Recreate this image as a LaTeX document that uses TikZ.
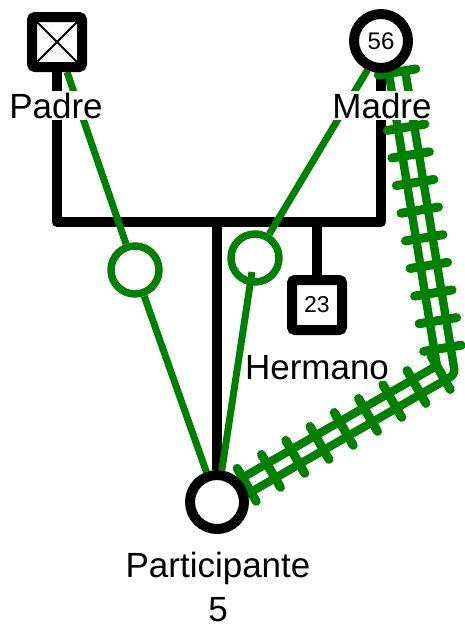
\documentclass[tikz,border=0pt]{standalone}
\usepackage{fontspec}
\setmainfont{Liberation Sans}
\usetikzlibrary{calc, backgrounds, decorations.pathreplacing}
\usetikzlibrary{positioning}
\definecolor{verde}{RGB}{0,128,0}

\tikzset{
	hombre/.style={draw=black, fill=white, line width=10pt, rounded corners=3pt, minimum size=50pt, inner sep=0pt, font=\fontsize{23}{26}\selectfont},
	mujer/.style={circle, draw=black, fill=white, line width=10pt, minimum size=54pt, inner sep=0pt, font=\fontsize{24}{26}\selectfont},
	fallecido/.style={path picture={\draw[line width=2pt] (path picture bounding box.north west)--(path picture bounding box.south east) (path picture bounding box.north east)--(path picture bounding box.south west);}},
	etiqueta/.style={fill=white, inner sep=2pt, anchor=base, font=\fontsize{35}{42}\selectfont},
	familia/.style={line width=10pt, line join=round},
	lazo/.style={verde, line width=7pt},
	vinculo/.style={circle, draw=verde, line width=7.5pt, minimum size=48pt, inner sep=0pt},
	fuerte/.style={draw=verde, line width=8.5pt, double=white, double distance=8pt, line join=round},
	rayas/.style={draw=verde, line width=9pt, line cap=round, decorate, decoration={ticks, segment length=28pt, amplitude=19pt}}
}

\begin{document}
\begin{tikzpicture}[x=1pt,y=-1pt]
	\useasboundingbox (0,0) rectangle (465,627);
	
	\coordinate (Pa) at (+57,+42);
	\coordinate (Ma) at (+381,+41);
	\coordinate (He) at (+317,+305);
	\coordinate (Pt) at (+217,+502);
	\coordinate (U)  at (+217,+222);
	\coordinate (K)  at (+446,+370);
	\coordinate (Mi) at (+252,+272);
	
	\node[hombre,fallecido] (padre)   at (Pa) {};
	\node[mujer]            (madre)   at (Ma) {56};
	\node[hombre]           (hermano) at (He) {23};
	\node[mujer]            (part)    at (Pt) {};
	\node[vinculo] (vP) at (+135,+270) {};
	\node[vinculo] (vM) at (+255,+258) {};
	
	\begin{scope}[on background layer]
		\draw[familia] (padre) -- (padre |- U) -- (madre |- U) -- (madre);
		\draw[familia] (U) -- (part);
		\draw[familia] (hermano |- U) -- (hermano);
		
		\draw[lazo] ($(padre.south)+(10,0)$) -- (vP);
		\draw[lazo] (vP) -- (part);
		\draw[lazo] (madre.245) -- (vM);
		\draw[lazo] (Mi) -- (part);
		
		\draw[fuerte] ($(madre.south)+(16,-1)$) -- (K) -- (part);
		\draw[rayas] ($(madre.south)+(16,-1)$) -- (K) -- (part);
	\end{scope}
	
	\node[etiqueta] (tPadre)   at (+56,+118)  {Padre};
	\node[etiqueta] (tMadre)   at (+382,+118) {Madre};
	\node[etiqueta] (tHermano) at (+317,+379) {Hermano};
	\node[etiqueta] (tPart)    at (+218,+577) {Participante};
	\node[etiqueta] (tNum)     at (+218,+621) {5};
\end{tikzpicture}
\end{document}
